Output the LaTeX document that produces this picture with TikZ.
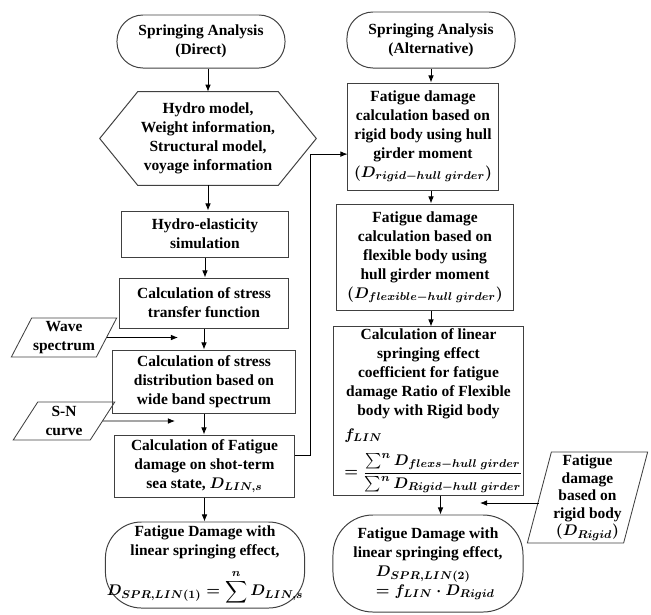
\documentclass[tikz,border=0pt]{standalone}
\usepackage{fontspec}
\setmainfont{Liberation Serif}
\usepackage{amsmath}
\usetikzlibrary{arrows.meta,shapes.geometric}

\begin{document}
\begin{tikzpicture}[x=0.025cm,y=-0.025cm,
  every node/.style={font=\fontsize{11}{13.5}\selectfont\bfseries\boldmath,align=center,inner sep=1pt},
  terminal/.style={draw=edge,line width=0.7pt,rounded corners=0.65cm},
  procbox/.style={draw=edge,line width=0.7pt},
  databox/.style={draw=edge,line width=0.6pt,trapezium,trapezium stretches=true,
    trapezium left angle=60,trapezium right angle=120},
  flow/.style={-{Latex[length=5pt,width=4pt]},line width=0.6pt}]
\colorlet{edge}{black!75};
\useasboundingbox (0,0) rectangle (651,614);

% Direct analysis
\node[terminal,minimum width=4.2cm,minimum height=1.325cm] (direct) at (201,41.5) {Springing Analysis\\(Direct)};
\node[minimum width=5.4cm,minimum height=2.325cm] (inputs) at (208,138.5) {Hydro model,\\Weight information,\\Structural model,\\voyage information};
\draw[edge,line width=0.7pt] (inputs.west) -- ([xshift=0.95cm]inputs.north west) -- ([xshift=-0.95cm]inputs.north east)
  -- (inputs.east) -- ([xshift=-0.95cm]inputs.south east) -- ([xshift=0.95cm]inputs.south west) -- cycle;
\node[procbox,minimum width=4.15cm,minimum height=1.15cm] (hydro) at (205,234) {Hydro-elasticity\\simulation};
\node[procbox,minimum width=4.2cm,minimum height=1.25cm] (transfer) at (204,303) {Calculation of stress\\transfer function};
\node[procbox,minimum width=4.55cm,minimum height=1.575cm] (distrib) at (204,381.5) {Calculation of stress\\distribution based on\\wide band spectrum};
\node[procbox,minimum width=4.475cm,minimum height=1.55cm] (shortterm) at (204.5,466) {Calculation of Fatigue\\damage on shot-term\\sea state, $D_{LIN,s}$};
\node[terminal,rounded corners=0.9cm,minimum width=4.85cm,minimum height=2.15cm] (result1) at (205,565)
  {Fatigue Damage with\\linear springing effect,\\[7pt]$D_{SPR,LIN(1)}=\displaystyle\sum^{n} D_{LIN,s}$};

% Inputs on the left
\node[databox,minimum width=2.55cm,minimum height=0.975cm] (wave) at (64,337.5) {Wave\\spectrum};
\node[databox,minimum width=2.55cm,minimum height=0.95cm] (sncurve) at (64,421) {S-N\\curve};
\coordinate (waveend) at (178,337.5);
\coordinate (snend) at (175,421);

% Alternative analysis
\node[terminal,minimum width=4.2cm,minimum height=1.4cm] (alt) at (431,40) {Springing Analysis\\(Alternative)};
\node[procbox,minimum width=3.75cm,minimum height=2.675cm] (rigidcalc) at (423,136.5)
  {Fatigue damage\\calculation based on\\rigid body using hull\\girder moment\\$(D_{rigid-hull\ girder})$};
\node[procbox,minimum width=4.4cm,minimum height=2.65cm] (flexcalc) at (425,257)
  {Fatigue damage\\calculation based on\\flexible body using\\hull girder moment\\$(D_{flexible-hull\ girder})$};
\node[procbox,minimum width=4.725cm,minimum height=4.2cm,inner sep=0.5pt] (ratio) at (428.5,411)
  {Calculation of linear\\springing effect\\coefficient for fatigue\\damage Ratio of Flexible\\body with Rigid body\\[3pt]
   \makebox[4.2cm][l]{$f_{LIN}$}\\[7pt]
   \makebox[4.2cm][l]{$=\dfrac{\sum^n D_{flexs-hull\ girder}}{\sum^n D_{Rigid-hull\ girder}}$}};
\node[terminal,rounded corners=1cm,minimum width=4.75cm,minimum height=2.425cm] (result2) at (428,563.5)
  {Fatigue Damage with\\linear springing effect,\\
   \makebox[2.6cm][l]{$D_{SPR,LIN(2)}$}\\
   \makebox[2.6cm][l]{$=f_{LIN}\cdot D_{Rigid}$}};

% Input on the right
\node[databox,trapezium left angle=75,trapezium right angle=105,minimum width=3.025cm,minimum height=2.275cm,
  font=\fontsize{11}{12.5}\selectfont\bfseries\boldmath] (rigid) at (587.5,497.5)
  {Fatigue\\damage\\based on\\rigid body\\$(D_{Rigid})$};
\coordinate (rigidend) at (480,503);

% Connectors, direct
\draw[flow] (direct.south -| inputs.north) -- (inputs.north);
\draw[flow] (inputs.south) -- (inputs.south |- hydro.north);
\draw[flow] (hydro.south) -- (hydro.south |- transfer.north);
\draw[flow] (transfer.south) -- (transfer.south |- distrib.north);
\draw[flow] (distrib.south) -- (distrib.south |- shortterm.north);
\draw[flow] (shortterm.south) -- (shortterm.south |- result1.north);
\draw[flow] (wave.east) -- (waveend);
\draw[flow] (sncurve.east) -- (snend);
\draw[flow] ([yshift=0.275cm]shortterm.east) -- ++(0.4cm,0) |- ([yshift=-0.44cm]rigidcalc.west);

% Connectors, alternative
\draw[flow] (alt.south) -- (alt.south |- rigidcalc.north);
\draw[flow] (rigidcalc.south -| alt.south) -- (alt.south |- flexcalc.north);
\draw[flow] (flexcalc.south -| alt.south) -- (alt.south |- ratio.north);
\draw[flow] ([xshift=0.3cm]ratio.south) -- ([xshift=0.3cm]ratio.south |- result2.north);
\draw[flow] (rigid.west |- rigidend) -- (rigidend);
\end{tikzpicture}
\end{document}
